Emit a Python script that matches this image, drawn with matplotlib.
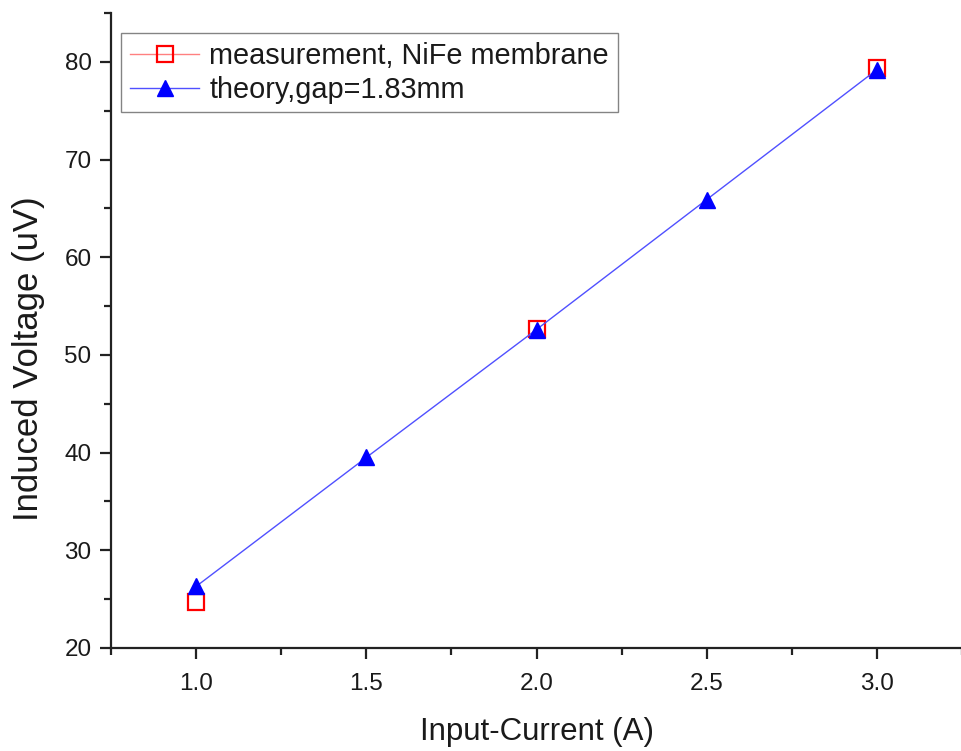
import matplotlib
matplotlib.use("Agg")
import matplotlib.pyplot as plt
from matplotlib.lines import Line2D
from matplotlib.ticker import MultipleLocator

plt.rcParams['font.family'] = ['Liberation Sans', 'DejaVu Sans']

# Measured induced voltage for the NiFe membrane
meas_current = [1.0, 2.0, 3.0]
meas_voltage = [24.7, 52.7, 79.4]

# Theoretical values for a 1.83 mm gap
theory_current = [1.0, 1.5, 2.0, 2.5, 3.0]
theory_voltage = [26.3, 39.5, 52.6, 65.9, 79.2]

meas_label = "measurement, NiFe membrane"
theory_label = "theory,gap=1.83mm"
x_label = "Input-Current (A)"
y_label = "Induced Voltage (uV)"

text_color = '#1a1a1a'

fig = plt.figure(figsize=(9.62, 7.51), dpi=100)
ax = fig.add_axes([0.1154, 0.1372, 0.8846, 0.8455])

ax.plot(theory_current, theory_voltage, color='#5050ff', lw=1.0,
        marker='^', markersize=11, markerfacecolor='#0000ff',
        markeredgecolor='#0000ff', zorder=3)
ax.plot(meas_current, meas_voltage, linestyle='none', marker='s',
        markersize=12, markerfacecolor='none', markeredgecolor='#ff0000',
        markeredgewidth=1.6, zorder=2)

ax.set_xlim(0.75, 3.25)
ax.set_ylim(20, 85)
ax.xaxis.set_major_locator(MultipleLocator(0.5))
ax.xaxis.set_minor_locator(MultipleLocator(0.25))
ax.set_yticks([20, 30, 40, 50, 60, 70, 80])
ax.yaxis.set_minor_locator(MultipleLocator(5))

for s in ['top', 'right']:
    ax.spines[s].set_visible(False)
for s in ['left', 'bottom']:
    ax.spines[s].set_linewidth(1.6)
    ax.spines[s].set_color('#222222')

ax.tick_params(which='major', direction='out', length=8, width=1.6,
               labelsize=17.5, colors='#222222', labelcolor=text_color,
               pad=6)
ax.tick_params(which='minor', direction='out', length=5, width=1.6,
               colors='#222222')
ax.tick_params(axis='x', which='major', pad=10)
ax.set_xlabel(x_label, fontsize=22.5, color=text_color, labelpad=16)
ax.set_ylabel(y_label, fontsize=25, color=text_color, labelpad=14)
ax.yaxis.label.set_y(0.455)

handles = [
    Line2D([], [], color='#ff8080', lw=1.0, marker='s', markersize=12,
           markerfacecolor='none', markeredgecolor='#ff0000',
           markeredgewidth=1.6),
    Line2D([], [], color='#5050ff', lw=1.0, marker='^', markersize=11,
           markerfacecolor='#0000ff', markeredgecolor='#0000ff'),
]
leg = ax.legend(handles, [meas_label, theory_label], loc='upper left',
                bbox_to_anchor=(0.012, 0.968), fontsize=20.8,
                frameon=True, fancybox=False, handlelength=2.4,
                handletextpad=0.35, borderpad=0.3, labelspacing=0.2,
                borderaxespad=0)
leg.get_frame().set_edgecolor('#666666')
leg.get_frame().set_linewidth(1.0)
for t in leg.get_texts():
    t.set_color(text_color)

fig.savefig("out.png", dpi=100)
